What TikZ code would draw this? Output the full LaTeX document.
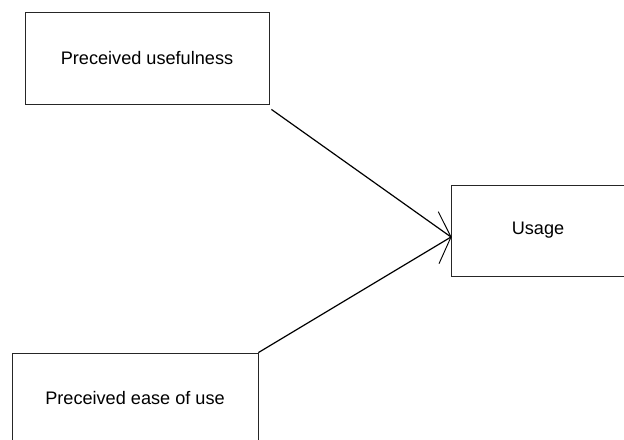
\documentclass[tikz,border=0pt]{standalone}
\usepackage{fontspec}
\setmainfont{Liberation Sans}
\begin{document}
\begin{tikzpicture}[x=0.75pt,y=-0.75pt,
  box/.style={draw=black!85,line width=0.6pt,rectangle,minimum width=#1*0.75pt,inner sep=0pt,font=\fontsize{13.6pt}{16pt}\selectfont},
  link/.style={draw=black,line width=0.9pt}]
\useasboundingbox (0,0) rectangle (624,439);
\clip (0,0) rectangle (624,439);
\node[box=244,minimum height=92*0.75pt] (pu) at (147,58) {Preceived usefulness};
\node[box=174,minimum height=91*0.75pt] (us) at (538,230.5) {Usage};
\node[box=246,minimum height=90*0.75pt] (pe) at (135,398) {Preceived ease of use};
\coordinate (tip) at (451,237);
\coordinate (s1) at ([shift={(2,5)}]pu.south east);
\coordinate (b1) at (438.3,211.7);
\coordinate (b2) at (439,263.7);
\draw[link] (s1) -- (tip);
\draw[link] (pe.north east) -- (tip);
\draw[line width=0.7pt] (tip) -- (b1);
\draw[line width=0.7pt] (tip) -- (b2);
\end{tikzpicture}
\end{document}
